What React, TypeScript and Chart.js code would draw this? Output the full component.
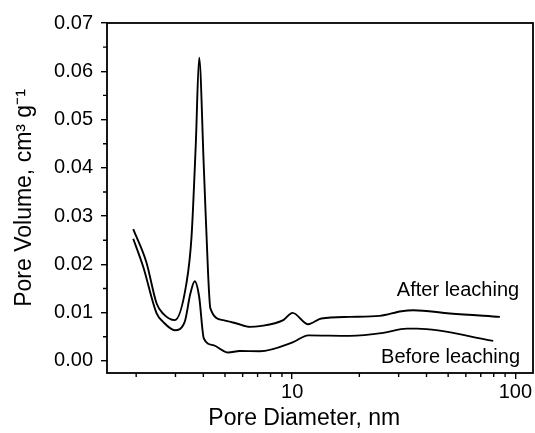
import { useEffect, useRef } from 'react';
import { Chart, registerables } from 'chart.js';

Chart.register(...registerables);

// Pore diameter (nm) and pore volume (cm3/g)
const afterDiameter = [1.94, 2.22, 2.47, 2.64, 2.98, 3.36, 3.54, 3.70, 3.83, 4.02, 4.20, 4.30, 4.91, 5.64, 6.46, 7.16, 9.12, 10.04, 11.8, 13.5, 18.1, 24.7, 30.9, 34.9, 50.9, 85.3];
const afterVolume = [0.0273, 0.0205, 0.0119, 0.0098, 0.00845, 0.0161, 0.0257, 0.045, 0.0628, 0.040, 0.0181, 0.0109, 0.00845, 0.00776, 0.00705, 0.0072, 0.00845, 0.00996, 0.0076, 0.0088, 0.00913, 0.00934, 0.0103, 0.0105, 0.00983, 0.00913];

const beforeDiameter = [1.94, 2.15, 2.47, 2.64, 2.98, 3.30, 3.50, 3.66, 3.83, 4.02, 4.43, 5.17, 5.82, 7.16, 10.1, 11.8, 18.1, 25.6, 32.6, 36.2, 79.6];
const beforeVolume = [0.0253, 0.0195, 0.00984, 0.0081, 0.00637, 0.0081, 0.014, 0.0165, 0.0133, 0.00465, 0.00326, 0.00174, 0.00207, 0.00201, 0.0039, 0.0053, 0.0052, 0.0058, 0.0067, 0.0067, 0.00415];

const seriesLabels = ['After leaching', 'Before leaching'];
// label anchors (right edge, baseline) in data units
const labelDiameter = [104, 105];
const labelVolume = [0.0135, -0.0004];

const yTickValues = [0, 0.01, 0.02, 0.03, 0.04, 0.05, 0.06, 0.07];
const yMinorValues = [0.005, 0.015, 0.025, 0.035, 0.045, 0.055, 0.065];
const xTickValues = [10, 100];
const xMinorValues = [2, 3, 4, 5, 6, 7, 8, 9, 20, 30, 40, 50, 60, 70, 80, 90];

const xTitle = 'Pore Diameter, nm';
const yTitle = 'Pore Volume, cm³ g⁻¹';

const FONT = "'Liberation Sans', Arial, sans-serif";

const framePlugin = {
  id: 'frameAndExtras',
  afterDraw(chart: any) {
    const { ctx, chartArea, scales } = chart;
    const xs = scales.x;
    const ys = scales.y;
    ctx.save();
    ctx.strokeStyle = '#000';
    ctx.lineWidth = 1.8;
    ctx.strokeRect(chartArea.left, chartArea.top, chartArea.right - chartArea.left, chartArea.bottom - chartArea.top);
    ctx.lineWidth = 1.4;
    ctx.beginPath();
    for (const v of yMinorValues) {
      const p = ys.getPixelForValue(v);
      ctx.moveTo(chartArea.left - 4, p);
      ctx.lineTo(chartArea.left, p);
    }
    for (const v of xMinorValues) {
      const p = xs.getPixelForValue(v);
      ctx.moveTo(p, chartArea.bottom);
      ctx.lineTo(p, chartArea.bottom + 4);
    }
    ctx.stroke();

    ctx.fillStyle = '#000';
    ctx.font = `20px ${FONT}`;
    ctx.textAlign = 'right';
    ctx.textBaseline = 'alphabetic';
    seriesLabels.forEach((t, i) => {
      ctx.fillText(t, xs.getPixelForValue(labelDiameter[i]), ys.getPixelForValue(labelVolume[i]));
    });

    ctx.font = `23px ${FONT}`;
    ctx.textAlign = 'center';
    const cx = chartArea.left + (chartArea.right - chartArea.left) * 0.463;
    ctx.fillText(xTitle, cx, chart.height - 8);
    ctx.restore();
  },
};

export default function App() {
  const ref = useRef<HTMLCanvasElement>(null);
  useEffect(() => {
    if (!ref.current) return;
    const chart = new Chart(ref.current, {
      type: 'line',
      data: {
        datasets: [
          {
            label: seriesLabels[0],
            data: afterDiameter.map((x, i) => ({ x, y: afterVolume[i] })),
            borderColor: '#000',
            borderWidth: 1.9,
            pointRadius: 0,
            cubicInterpolationMode: 'monotone',
            fill: false,
          },
          {
            label: seriesLabels[1],
            data: beforeDiameter.map((x, i) => ({ x, y: beforeVolume[i] })),
            borderColor: '#000',
            borderWidth: 1.9,
            pointRadius: 0,
            cubicInterpolationMode: 'monotone',
            fill: false,
          },
        ],
      },
      options: {
        responsive: false,
        animation: false,
        layout: { padding: { left: 0, top: 23, right: 2, bottom: 0 } },
        plugins: { legend: { display: false }, tooltip: { enabled: false } },
        scales: {
          x: {
            type: 'logarithmic',
            min: 1.48,
            max: 120,
            afterBuildTicks: (s: any) => {
              s.ticks = xTickValues.map((v) => ({ value: v }));
            },
            afterFit: (s: any) => {
              s.height = 60;
            },
            border: { display: false },
            grid: { drawOnChartArea: false, drawTicks: true, tickLength: 6, color: '#000', lineWidth: 1.4 },
            ticks: {
              autoSkip: false,
              maxRotation: 0,
              padding: 1,
              color: '#000',
              font: { family: FONT, size: 20 },
              callback: (v: any) => String(v),
            },
          },
          y: {
            type: 'linear',
            min: -0.0025,
            max: 0.07,
            afterBuildTicks: (s: any) => {
              s.ticks = yTickValues.map((v) => ({ value: v }));
            },
            afterFit: (s: any) => {
              s.width = 107;
            },
            border: { display: false },
            grid: { drawOnChartArea: false, drawTicks: true, tickLength: 6, color: '#000', lineWidth: 1.4 },
            title: {
              display: true,
              text: yTitle,
              color: '#000',
              font: { family: FONT, size: 23 },
              padding: { top: 11, bottom: 0 },
            },
            ticks: {
              padding: 8,
              color: '#000',
              font: { family: FONT, size: 20 },
              callback: (v: any) => Number(v).toFixed(2),
            },
          },
        },
      },
      plugins: [framePlugin],
    });
    return () => chart.destroy();
  }, []);
  return (
    <div style={{ position: 'absolute', left: 0, top: 0, width: 535, height: 433, background: '#fff' }}>
      <canvas ref={ref} width={535} height={433} />
    </div>
  );
}
